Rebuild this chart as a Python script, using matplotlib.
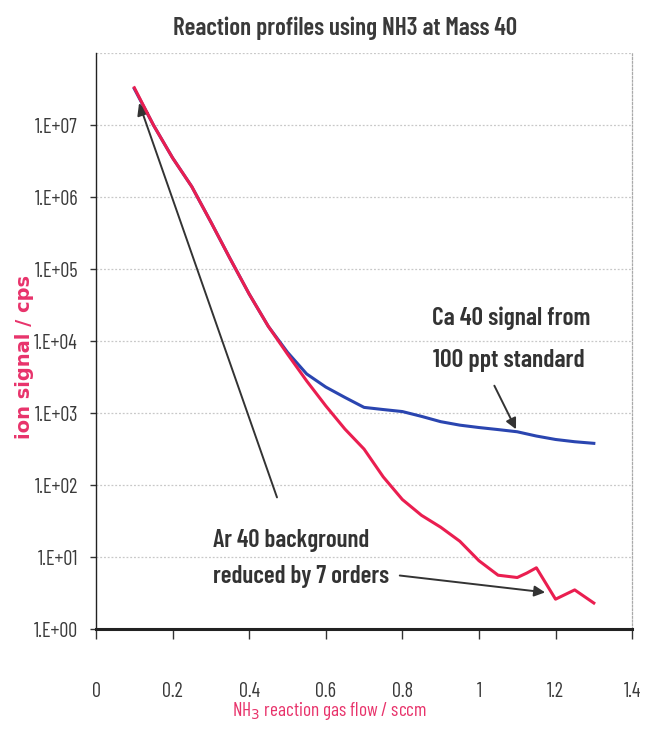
import matplotlib
matplotlib.use("Agg")
import logging
logging.getLogger('matplotlib.font_manager').setLevel(logging.ERROR)
import matplotlib.pyplot as plt
from matplotlib.ticker import FixedLocator, NullLocator

COND = ['Barlow Condensed', 'Roboto Condensed', 'Liberation Sans Narrow',
        'Liberation Sans', 'DejaVu Sans']
plt.rcParams['font.family'] = COND

# Data
flow_ca = [0.10, 0.15, 0.20, 0.25, 0.30, 0.35, 0.40, 0.45, 0.50, 0.55, 0.60, 0.65,
           0.70, 0.75, 0.80, 0.85, 0.90, 0.95, 1.00, 1.05, 1.10, 1.15, 1.20, 1.25, 1.30]
ca40 = [3.2e7, 1.0e7, 3.5e6, 1.4e6, 4.5e5, 1.4e5, 4.5e4, 1.6e4, 7.0e3, 3.5e3, 2.3e3, 1.65e3,
        1.2e3, 1.12e3, 1.05e3, 900, 760, 680, 630, 590, 550, 480, 430, 400, 380]

flow_ar = [0.10, 0.15, 0.20, 0.25, 0.30, 0.35, 0.40, 0.45, 0.50, 0.55, 0.60, 0.65, 0.70,
           0.75, 0.80, 0.85, 0.90, 0.95, 1.00, 1.05, 1.10, 1.125, 1.15, 1.20, 1.25, 1.30]
ar40 = [3.3e7, 1.0e7, 3.5e6, 1.4e6, 4.5e5, 1.4e5, 4.5e4, 1.6e4, 6.6e3, 2.8e3, 1.26e3, 600, 316,
        130, 63, 38, 26, 16.6, 8.9, 5.6, 5.2, 6.0, 7.1, 2.6, 3.5, 2.3]

x_ticks = [0, 0.2, 0.4, 0.6, 0.8, 1.0, 1.2, 1.4]
x_tick_labels = ["0", "0.2", "0.4", "0.6", "0.8", "1", "1.2", "1.4"]
y_ticks = [1e0, 1e1, 1e2, 1e3, 1e4, 1e5, 1e6, 1e7]
y_tick_labels = ["1.E+00", "1.E+01", "1.E+02", "1.E+03", "1.E+04", "1.E+05", "1.E+06", "1.E+07"]

title = "Reaction profiles using NH3 at Mass 40"
ylabel = "ion signal / cps"
xlabel = "NH$_3$ reaction gas flow / sccm"

BLUE = "#2a45b0"
RED = "#ea1e50"
PINK = "#e8336b"
TXT = "#3a3a3a"
ANN = "#333333"

fig = plt.figure(figsize=(6.51, 7.48), dpi=100)
ax = fig.add_axes([0.1475, 0.159, 0.971 - 0.1475, 0.929 - 0.159])

ax.plot(flow_ca, ca40, color=BLUE, lw=2.2, zorder=3)
ax.plot(flow_ar, ar40, color=RED, lw=2.2, zorder=4)

ax.set_yscale('log')
ax.set_xlim(0, 1.4)
ax.set_ylim(1, 1e8)
ax.xaxis.set_major_locator(FixedLocator(x_ticks))
ax.set_xticklabels(x_tick_labels)
ax.yaxis.set_major_locator(FixedLocator(y_ticks))
ax.yaxis.set_minor_locator(NullLocator())
ax.set_yticklabels(y_tick_labels)

for y in y_ticks[1:] + [1e8]:
    ax.axhline(y, color="#c8c8c8", lw=0.9, ls=(0, (1.5, 1.5)), zorder=1)

ax.spines['top'].set_visible(False)
ax.spines['right'].set_color("#aaaaaa")
ax.spines['right'].set_linestyle((0, (1.5, 1.5)))
ax.spines['right'].set_linewidth(0.9)
ax.spines['left'].set_color("#222222")
ax.spines['left'].set_linewidth(1.0)
ax.spines['bottom'].set_color("#222222")
ax.spines['bottom'].set_linewidth(2.2)

ax.tick_params(axis='x', direction='out', length=7, width=1.0, pad=31,
               labelsize=15, labelcolor=TXT, color="#333333")
ax.tick_params(axis='y', direction='out', length=4, width=1.0, pad=9,
               labelsize=15, labelcolor=TXT, color="#333333")

t_title = fig.text(345 / 651, 1 - 28 / 748, title, ha='center', va='center', fontsize=18,
                   fontweight='semibold', color=TXT)
t_ylab = fig.text(25 / 651, 1 - 357 / 748, ylabel, ha='center', va='center', rotation=90,
                  fontsize=14, fontweight='bold', color=PINK,
                  family=['DejaVu Sans'])
t_xlab = fig.text(330 / 651, 1 - 711 / 748, xlabel, ha='center', va='center',
                  fontsize=15, color=PINK)

# annotations
ann_kw = dict(ha='left', va='center', fontsize=18, color=ANN, fontweight='semibold')
t_ca1 = ax.text(0.877, 10 ** (8 - (318 - 53) / 72), "Ca 40 signal from", **ann_kw)
t_ca2 = ax.text(0.880, 10 ** (8 - (360 - 53) / 72), "100 ppt standard", **ann_kw)
t_ar1 = ax.text(0.305, 10 ** (8 - (540 - 53) / 72), "Ar 40 background", **ann_kw)
t_ar2 = ax.text(0.305, 10 ** (8 - (576 - 53) / 72), "reduced by 7 orders", **ann_kw)

ax.annotate("", xy=(1.10, 550), xytext=(1.037, 2.6e3),
            arrowprops=dict(arrowstyle='-|>', color=ANN, lw=1.4, mutation_scale=16))
ax.annotate("", xy=(1.18, 3.2), xytext=(0.786, 5.6),
            arrowprops=dict(arrowstyle='-|>', color=ANN, lw=1.4, mutation_scale=16))
ax.annotate("", xy=(0.11, 2.2e7), xytext=(0.475, 62),
            arrowprops=dict(arrowstyle='-|>', color=ANN, lw=1.4, mutation_scale=18))

# fit text sizes to the widths measured on the reference (pixels)
fig.canvas.draw()
r = fig.canvas.get_renderer()

def fit(t, target, vertical=False):
    bb = t.get_window_extent(r)
    cur = bb.height if vertical else bb.width
    t.set_fontsize(t.get_fontsize() * target / cur)

fit(t_title, 345)
fit(t_xlab, 195)
fit(t_ca1, 158)
fit(t_ca2, 152)
fit(t_ar1, 156)
fit(t_ar2, 176)

ylbl = [l for l in ax.get_yticklabels() if l.get_text() == "1.E+07"][0]
w = ylbl.get_window_extent(r).width
ax.tick_params(axis='both', labelsize=15 * 43 / w)

fig.savefig("out.png", dpi=100)
